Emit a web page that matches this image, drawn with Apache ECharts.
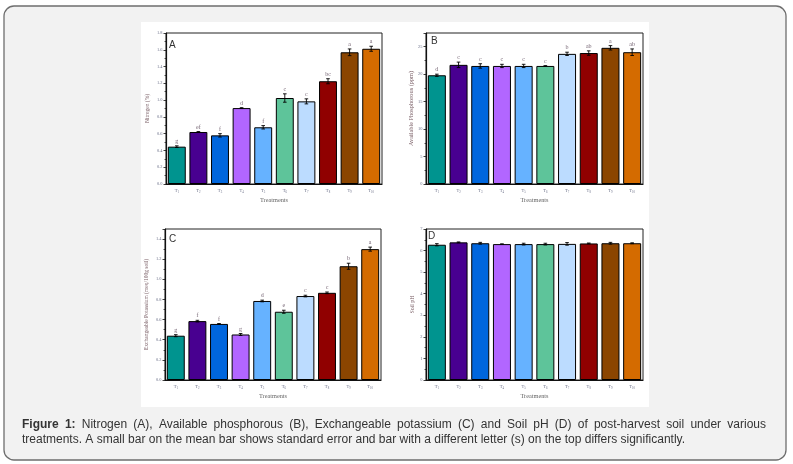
<!DOCTYPE html>
<html><head><meta charset="utf-8">
<script src="https://cdn.jsdelivr.net/npm/echarts@6/dist/echarts.min.js"></script>
<style>html,body{margin:0;padding:0;background:#fff}#c{width:793px;height:464px}</style>
</head><body><div id="c"></div>
<script>
const categories = ['T1','T2','T3','T4','T5','T6','T7','T8','T9','T10'];
const barColors = ['#00948f','#480090','#0066dd','#b266ff','#66b2ff','#5ec49a','#bcdcff','#900000','#8b4500','#d46b00'];

const nitrogen = [0.445,0.62,0.58,0.905,0.676,1.025,0.985,1.225,1.57,1.612];
const nitrogenErr = [0.01,0.005,0.02,0.005,0.02,0.05,0.03,0.03,0.04,0.03];
const nitrogenLetters = ['g','ef','f','d','f','c','c','bc','a','a'];

const phosphorus = [19.8,21.7,21.5,21.5,21.5,21.5,23.7,23.85,24.8,24.0];
const phosphorusErr = [0.2,0.5,0.4,0.3,0.3,0.05,0.3,0.4,0.4,0.6];
const phosphorusLetters = ['d','c','c','c','c','c','b','ab','a','ab'];

const potassium = [0.44,0.585,0.557,0.452,0.785,0.678,0.834,0.866,1.13,1.30];
const potassiumErr = [0.01,0.008,0.004,0.01,0.008,0.015,0.008,0.008,0.03,0.02];
const potassiumLetters = ['g','f','f','g','d','e','c','c','b','a'];

const soilPH = [6.27,6.38,6.34,6.30,6.30,6.30,6.31,6.33,6.34,6.34];
const soilPHErr = [0.05,0.02,0.04,0.01,0.04,0.04,0.06,0.02,0.04,0.02];

const panelLetters = ['A','B','C','D'];
const yNames = ['Nitrogen (%)','Available Phosphorous (ppm)','Exchangeable Potassium (meq/100g soil)','Soil pH'];
const xName = 'Treatments';
const captionLine1 = 'Figure 1: Nitrogen (A), Available phosphorous (B), Exchangeable potassium (C) and Soil pH (D) of post-harvest soil under various';
const captionLine2 = 'treatments. A small bar on the mean bar shows standard error and bar with a different letter (s) on the top differs significantly.';

const SERIF = '"Liberation Serif", "DejaVu Serif", serif';
const SANS = '"Liberation Sans", Arial, sans-serif';

const grids = [
  {left:166, top:33, width:216, height:151},
  {left:426, top:33, width:217, height:151},
  {left:165, top:229, width:216, height:151},
  {left:426, top:229, width:217, height:151}
];
const yScales = [
  {max:1.8, interval:0.2, dec:1, nameGap:15, nameSize:5.5},
  {max:27.5, interval:5, dec:0, nameGap:12, nameSize:6.3},
  {max:1.5, interval:0.2, dec:1, nameGap:15, nameSize:5.5},
  {max:7, interval:1, dec:0, nameGap:11, nameSize:5.8}
];

const chart = echarts.init(document.getElementById('c'), null, {renderer:'canvas'});

function xAxis(i){
  return {
    type:'category', gridIndex:i, data:categories,
    name:xName, nameLocation:'middle', nameGap:13,
    nameTextStyle:{fontFamily:SERIF, fontSize:6.3, color:'#666'},
    axisLine:{lineStyle:{color:'#111', width:1.2}},
    axisTick:{alignWithLabel:true, length:2, lineStyle:{color:'#111', width:0.8}},
    axisLabel:{margin:4, interval:0,
      formatter:(v)=>'{t|T}{s|'+v.slice(1)+'}',
      rich:{t:{fontFamily:SERIF, fontSize:4.6, color:'#6a6f88'}, s:{fontFamily:SERIF, fontSize:3, color:'#6a6f88', padding:[3,0,0,0]}}
    }
  };
}
function yAxis(i){
  const s = yScales[i];
  return {
    type:'value', gridIndex:i, min:0, max:s.max, interval:s.interval,
    name:yNames[i], nameLocation:'middle', nameGap:s.nameGap,
    nameTextStyle:{fontFamily:SERIF, fontSize:s.nameSize, color:'#7a5f66'},
    splitLine:{show:false},
    axisLine:{show:true, lineStyle:{color:'#111', width:1.2}},
    axisTick:{show:true, length:2.5, lineStyle:{color:'#111', width:0.8}},
    minorTick:{show:true, splitNumber:2, length:1.5, lineStyle:{color:'#111', width:0.7}},
    axisLabel:{margin:3.5, fontFamily:SERIF, fontSize:4.4, color:'#6a6f88', showMaxLabel: (s.max/s.interval)%1===0 ? true : false,
      formatter:(v)=>v.toFixed(s.dec)}
  };
}
function barSeries(i, vals){
  return {
    type:'bar', xAxisIndex:i, yAxisIndex:i, barCategoryGap:'17%',
    data: vals.map((v,k)=>({value:v, itemStyle:{color:barColors[k]}})),
    itemStyle:{borderColor:'#000', borderWidth:1},
    silent:true
  };
}
function errSeries(i, vals, errs, letters){
  return {
    type:'custom', xAxisIndex:i, yAxisIndex:i, z:10, silent:true,
    data: vals.map((v,k)=>[k, v, errs[k]]),
    renderItem:(params, api)=>{
      const k = api.value(0), v = api.value(1), e = api.value(2);
      const t = api.coord([k, v+e]); const b = api.coord([k, v-e]);
      const x = t[0], hw = 1.8;
      const st = {stroke:'#000', lineWidth:0.9};
      const children = [
        {type:'line', shape:{x1:x,y1:t[1],x2:x,y2:b[1]}, style:st},
        {type:'line', shape:{x1:x-hw,y1:t[1],x2:x+hw,y2:t[1]}, style:st},
        {type:'line', shape:{x1:x-hw,y1:b[1],x2:x+hw,y2:b[1]}, style:st}
      ];
      if (letters) children.push({type:'text', x:x, y:t[1]-1.5,
        style:{text:letters[params.dataIndex], align:'center', verticalAlign:'bottom',
          font:'6px '+SERIF, fill:'#7a6a78'}});
      return {type:'group', children};
    }
  };
}

// caption layout
const capFont = '12px '+SANS;
const ctx = document.createElement('canvas').getContext('2d');
function tw(text, bold){ ctx.font = (bold?'bold ':'')+capFont; return ctx.measureText(text).width; }
const capX0 = 22, capX1 = 766, capY1 = 425, capY2 = 440;
const words = captionLine1.split(' ');
const boldCount = 2;
const widths = words.map((w,k)=>tw(w, k<boldCount));
const total = widths.reduce((a,b)=>a+b,0);
const gap = (capX1-capX0-total)/(words.length-1);
const capElems = [];
let cx = capX0;
words.forEach((w,k)=>{
  capElems.push({type:'text', x:cx, y:capY1, z:5,
    style:{text:w, font:(k<boldCount?'bold ':'')+capFont, fill:'#333', align:'left', verticalAlign:'middle'}});
  cx += widths[k]+gap;
});
capElems.push({type:'text', x:capX0, y:capY2, z:5,
  style:{text:captionLine2, font:capFont, fill:'#333', align:'left', verticalAlign:'middle'}});

const letterPos = [[169,45],[431,41],[169,239],[428,236]];
const letterElems = panelLetters.map((L,k)=>({type:'text', x:letterPos[k][0], y:letterPos[k][1], z:5,
  style:{text:L, font:'10px '+SANS, fill:'#333', align:'left', verticalAlign:'middle'}}));

const option = {
  animation:false,
  backgroundColor:'#ffffff',
  grid: grids.map(g=>Object.assign({show:true, borderColor:'#222', borderWidth:1, backgroundColor:'transparent', containLabel:false, outerBoundsMode:'none'}, g)),
  xAxis: [0,1,2,3].map(xAxis),
  yAxis: [0,1,2,3].map(yAxis),
  graphic: [
    {type:'rect', z:-100, shape:{x:4, y:6, width:782, height:454, r:10}, style:{fill:'#f2f2f2', stroke:'#6e6e6e', lineWidth:1.3}},
    {type:'rect', z:-99, shape:{x:141, y:22, width:508, height:385}, style:{fill:'#ffffff'}}
  ].concat(capElems, letterElems),
  series: [
    barSeries(0, nitrogen), errSeries(0, nitrogen, nitrogenErr, nitrogenLetters),
    barSeries(1, phosphorus), errSeries(1, phosphorus, phosphorusErr, phosphorusLetters),
    barSeries(2, potassium), errSeries(2, potassium, potassiumErr, potassiumLetters),
    barSeries(3, soilPH), errSeries(3, soilPH, soilPHErr, null)
  ]
};
chart.setOption(option);
</script></body></html>
